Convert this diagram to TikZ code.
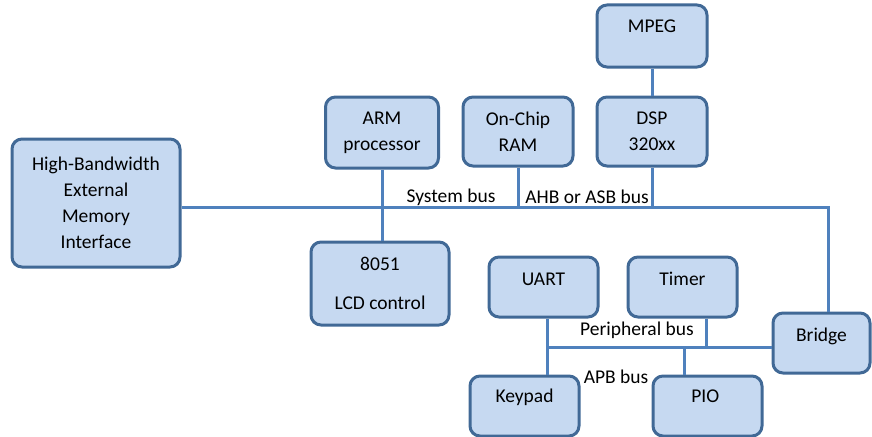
\documentclass[tikz,border=0pt]{standalone}
\usepackage{fontspec}
\setmainfont{Carlito}
\definecolor{boxfill}{RGB}{198,217,241}
\definecolor{boxline}{RGB}{65,105,150}
\definecolor{busline}{RGB}{79,129,189}
\tikzset{
    block/.style={draw=boxline, fill=boxfill, line width=3pt, rounded corners=10pt,
        align=center, inner sep=0pt, font=\fontsize{19.5}{26}\selectfont},
    txtup/.style={text height=14pt, text depth=#1},
    bus/.style={draw=busline, line width=3pt},
    buslabel/.style={inner sep=1pt, font=\fontsize{19.5}{22}\selectfont}
}
\begin{document}
\begin{tikzpicture}[x=1pt,y=-1pt]
    \useasboundingbox (0,0) rectangle (872,436);
    
    %% masters on the system bus
    \node[block, minimum width=168pt, minimum height=128pt] (mem) at (96,203) {High-Bandwidth\\External\\Memory\\Interface};
    \node[block, minimum width=113pt, minimum height=71pt] (arm) at (382,132.5) {ARM\\processor};
    \node[block, minimum width=110pt, minimum height=69pt] (ram) at (518,131.5) {On-Chip\\RAM};
    \node[block, minimum width=110pt, minimum height=69pt] (dsp) at (652,131.5) {DSP\\320xx};
    \node[block, minimum width=138pt, minimum height=83pt] (lcd) at (380,283.5) {8051\\[13pt]LCD control};
    
    %% one-line boxes: name/x/y/width/height/depth/text
    \foreach \n/\x/\y/\w/\h/\d/\t in 
    {mpeg/652/36/110/62/21/MPEG,
        uart/543.5/287/109/60/17/UART,
        timer/682.5/287/109/60/17/Timer,
        bridge/821.5/343/97/60/17/Bridge,
        keypad/524.5/406/109/60/21/Keypad,
        pio/707.5/406/109/60/21/PIO
    }
    {
        \node[block, txtup=\d pt, minimum width=\w pt, minimum height=\h pt] (\n) at (\x,\y) {\t};
    };
    
    %% bus corners and drops
    \coordinate (sbus) at (828,207);
    \coordinate (pbus) at (547,347);
    \coordinate (tdrop) at (706,347);
    \coordinate (pdrop) at (684,347);
    
    \draw[bus] (mem.east |- sbus) -- (sbus) -- (sbus |- bridge.north);
    \draw[bus] (arm.south) -- (arm.south |- lcd.north);
    \draw[bus] (ram.south) -- (ram.south |- sbus);
    \draw[bus] (dsp.south) -- (dsp.south |- sbus);
    \draw[bus] (mpeg.south) -- (dsp.north);
    \draw[bus] (pbus) -- (pbus -| bridge.west);
    \draw[bus] (pbus |- uart.south) -- (pbus |- keypad.north);
    \draw[bus] (tdrop |- timer.south) -- (tdrop);
    \draw[bus] (pdrop) -- (pdrop |- pio.north);
    
    \node[buslabel] (sysname) at (451,197) {System bus};
    \node[buslabel] (ahbname) at (587,197) {AHB or ASB bus};
    \node[buslabel] (pername) at (637,330) {Peripheral bus};
    \node[buslabel] (apbname) at (616,377) {APB bus};
\end{tikzpicture}
\end{document}
